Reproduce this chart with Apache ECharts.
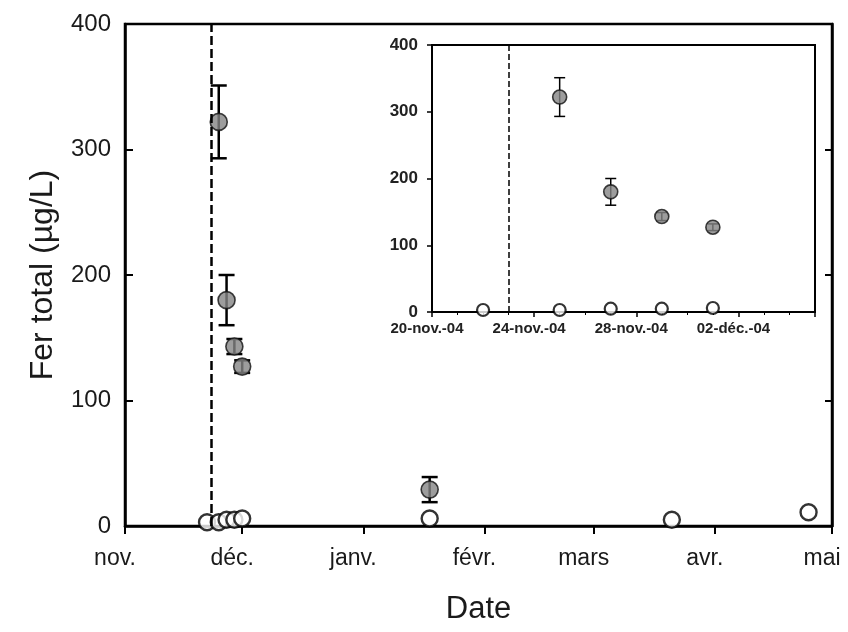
<!DOCTYPE html>
<html><head><meta charset="utf-8">
<script src="https://cdn.jsdelivr.net/npm/echarts@6/dist/echarts.min.js"></script>
<style>html,body{margin:0;padding:0;background:#fff}#c{width:848px;height:632px}</style>
</head><body><div id="c"></div>
<script>
// ---- data ----
const monthLabels = ['janv.','févr.','mars','avr.','mai','juin','juil.','août','sept.','oct.','nov.','déc.'];
const filledDates = ['2004-11-25','2004-11-27','2004-11-29','2004-12-01','2005-01-18'];
const filledValues = [322, 180, 143, 127, 29];
const filledErrors = [29, 20, 6, 5, 10];
const openDates = ['2004-11-22','2004-11-25','2004-11-27','2004-11-29','2004-12-01','2005-01-18','2005-03-21','2005-04-25'];
const openValues = [3, 3, 5, 5, 6, 6, 5, 11];
const treatmentDate = '2004-11-23';
const mainXMin = '2004-11-01', mainXMax = '2005-05-01';
const insetStart = '2004-10-31';   // day 0 for inset axis
const insetMinDay = 20, insetMaxDay = 35, insetStep = 4;

// ---- helpers ----
const DAY = 86400000;
function utc(s){ const p = s.split('-').map(Number); return Date.UTC(p[0], p[1]-1, p[2]); }
function toDay(s){ return (utc(s) - utc(insetStart)) / DAY; }
function insetLabel(v){
  if (v % insetStep !== 0) return '';
  const d = new Date(utc(insetStart) + v*DAY);
  const dd = String(d.getUTCDate()).padStart(2,'0');
  return dd + '-' + monthLabels[d.getUTCMonth()] + '-' + String(d.getUTCFullYear()).slice(2);
}
function errRender(capW, lw){
  return function(params, api){
    const x = api.value(0), y = api.value(1), e = api.value(2);
    const top = api.coord([x, y + e]), bot = api.coord([x, y - e]);
    const style = {stroke:'#000', lineWidth: lw, fill: null};
    return {type:'group', children:[
      {type:'line', shape:{x1:top[0], y1:top[1], x2:bot[0], y2:bot[1]}, style:style},
      {type:'line', shape:{x1:top[0]-capW/2, y1:top[1], x2:top[0]+capW/2, y2:top[1]}, style:style},
      {type:'line', shape:{x1:bot[0]-capW/2, y1:bot[1], x2:bot[0]+capW/2, y2:bot[1]}, style:style}
    ]};
  };
}

const FONT = 'Liberation Sans, Arial, sans-serif';
const mainFilled = filledDates.map((d,i)=>[d, filledValues[i], filledErrors[i]]);
const mainOpen = openDates.map((d,i)=>[d, openValues[i]]);
const insetFilled = filledDates.map((d,i)=>[toDay(d), filledValues[i], filledErrors[i]]).filter(p=>p[0]<=insetMaxDay);
const insetOpen = openDates.map((d,i)=>[toDay(d), openValues[i]]).filter(p=>p[0]<=insetMaxDay);

const filledStyle = {color:'#858585', borderColor:'#111', borderWidth:1.6};
const openStyle = {color:'#fff', borderColor:'#000', borderWidth:2.4};

const chart = echarts.init(document.getElementById('c'), null, {renderer:'canvas'});
chart.setOption({
  animation:false,
  backgroundColor:'#fff',
  textStyle:{fontFamily:FONT, color:'#111'},
  grid:[
    {left:125, right:16, top:24, bottom:106, show:true, borderColor:'#000', borderWidth:2.5, backgroundColor:'transparent'},
    {left:432, top:45, width:383, height:267, show:true, borderColor:'#000', borderWidth:2, backgroundColor:'#fff', z:5}
  ],
  xAxis:[
    {gridIndex:0, type:'time', min:mainXMin, max:mainXMax, splitNumber:6,
     axisLine:{show:true, lineStyle:{color:'#000', width:2.5}},
     axisTick:{show:true, inside:false, length:8, lineStyle:{color:'#000', width:2}},
     splitLine:{show:false},
     axisLabel:{fontSize:23, color:'#1a1a1a', fontFamily:FONT, margin:21, padding:[0,20,0,0],
       formatter:function(v){ return monthLabels[new Date(v).getMonth()]; }},
     name:'Date', nameLocation:'middle', nameGap:68,
     nameTextStyle:{fontSize:31, color:'#1a1a1a', fontFamily:FONT}},
    {gridIndex:1, type:'value', min:insetMinDay, max:insetMaxDay, interval:insetStep,
     axisLine:{show:true, onZero:false, lineStyle:{color:'#000', width:2}},
     axisTick:{show:true, inside:false, length:5, lineStyle:{color:'#000', width:1.5}},
     minorTick:{show:true, splitNumber:4, length:3, lineStyle:{color:'#000', width:1}},
     splitLine:{show:false},
     axisLabel:{fontSize:15, fontWeight:'bold', color:'#222', fontFamily:FONT, margin:9, padding:[0,10,0,0],
       formatter:insetLabel, showMaxLabel:false}}
  ],
  yAxis:[
    {gridIndex:0, type:'value', min:0, max:400, interval:100,
     axisLine:{show:true, lineStyle:{color:'#000', width:2.5}},
     axisTick:{show:true, inside:true, length:8, lineStyle:{color:'#000', width:2}},
     splitLine:{show:false},
     axisLabel:{fontSize:24, color:'#1a1a1a', fontFamily:FONT, margin:14},
     name:'Fer total (µg/L)', nameLocation:'middle', nameGap:66,
     nameTextStyle:{fontSize:32, color:'#1a1a1a', fontFamily:FONT}},
    {gridIndex:0, type:'value', min:0, max:400, interval:100, position:'right',
     axisLine:{show:true, lineStyle:{color:'#000', width:2.5}},
     axisTick:{show:true, inside:true, length:7, lineStyle:{color:'#000', width:2}},
     axisLabel:{show:false}, splitLine:{show:false}},
    {gridIndex:1, type:'value', min:0, max:400, interval:100,
     axisLine:{show:true, lineStyle:{color:'#000', width:2}},
     axisTick:{show:true, inside:false, length:5, lineStyle:{color:'#000', width:1.5}},
     splitLine:{show:false},
     axisLabel:{fontSize:17, fontWeight:'bold', color:'#222', fontFamily:FONT, margin:14}}
  ],
  series:[
    {type:'custom', xAxisIndex:0, yAxisIndex:0, z:3, data:mainFilled, renderItem:errRender(16, 2.5),
     markLine:{silent:true, symbol:['none','none'], label:{show:false},
       lineStyle:{color:'#000', width:2.5, type:[9,4]}, data:[{xAxis:treatmentDate}]}},
    {type:'scatter', xAxisIndex:0, yAxisIndex:0, z:4, symbol:'circle', symbolSize:16,
     data:mainOpen, itemStyle:openStyle},
    {type:'scatter', xAxisIndex:0, yAxisIndex:0, z:4, symbol:'circle', symbolSize:17,
     data:mainFilled, itemStyle:filledStyle},
    {type:'custom', xAxisIndex:1, yAxisIndex:2, z:7, data:insetFilled, renderItem:errRender(11, 1.5),
     markLine:{silent:true, symbol:['none','none'], label:{show:false},
       lineStyle:{color:'#000', width:1.5, type:[6,3]}, data:[{xAxis:toDay(treatmentDate)}]}},
    {type:'scatter', xAxisIndex:1, yAxisIndex:2, z:8, symbol:'circle', symbolSize:12,
     data:insetOpen, itemStyle:{color:'#fff', borderColor:'#000', borderWidth:2.2}},
    {type:'scatter', xAxisIndex:1, yAxisIndex:2, z:8, symbol:'circle', symbolSize:14,
     data:insetFilled, itemStyle:filledStyle}
  ]
});
</script>
</body></html>
